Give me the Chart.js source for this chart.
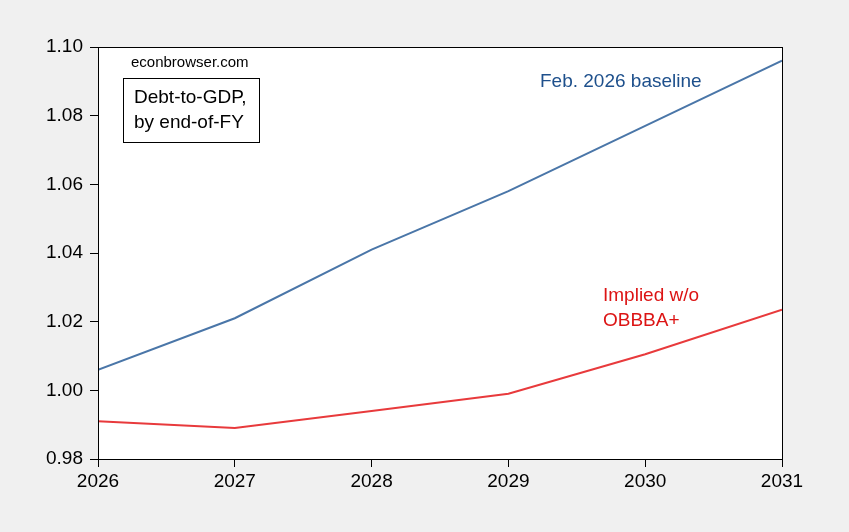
<!DOCTYPE html>
<html>
<head>
<meta charset="utf-8">
<script src="https://cdn.jsdelivr.net/npm/chart.js@4"></script>
<style>
  html, body { margin: 0; padding: 0; background: #f0f0f0; }
  #wrap { width: 849px; height: 532px; position: relative; }
</style>
</head>
<body>
<div id="wrap"><canvas id="c"></canvas></div>
<script>
const years = [2026, 2027, 2028, 2029, 2030, 2031];
const baseline = [1.006, 1.021, 1.041, 1.058, 1.077, 1.096];
const impliedWoOBBBA = [0.991, 0.989, 0.994, 0.999, 1.0105, 1.0235];
const yTicks = [0.98, 1.00, 1.02, 1.04, 1.06, 1.08, 1.10];
const labelBaseline = "Feb. 2026 baseline";
const labelImplied = ["Implied w/o", "OBBBA+"];
const boxLines = ["Debt-to-GDP,", "by end-of-FY"];
const sourceText = "econbrowser.com";

const FONT = "Arial, 'Liberation Sans', sans-serif";
const BLUE = "rgb(74,118,168)";
const RED = "rgb(232,58,60)";

const frame = {
  id: "frame",
  beforeDraw(chart) {
    const ctx = chart.ctx, a = chart.chartArea;
    ctx.save();
    ctx.fillStyle = "#fff";
    ctx.fillRect(a.left, a.top, a.right - a.left, a.bottom - a.top);
    ctx.restore();
  },
  afterDraw(chart) {
    const ctx = chart.ctx, a = chart.chartArea;
    ctx.save();
    ctx.strokeStyle = "#000";
    ctx.lineWidth = 1;
    ctx.strokeRect(Math.round(a.left) + 0.5, Math.round(a.top) + 0.5,
                   Math.round(a.right - a.left), Math.round(a.bottom - a.top));
    ctx.textBaseline = "middle";
    ctx.textAlign = "left";
    ctx.fillStyle = "#000";
    ctx.font = "15px " + FONT;
    ctx.fillText(sourceText, 131, 63);
    ctx.fillStyle = "#fff";
    ctx.fillRect(123.5, 78.5, 136, 64);
    ctx.strokeRect(123.5, 78.5, 136, 64);
    ctx.fillStyle = "#000";
    ctx.font = "19px " + FONT;
    ctx.fillText(boxLines[0], 134, 98);
    ctx.fillText(boxLines[1], 134, 123);
    ctx.fillStyle = "rgb(30,80,140)";
    ctx.fillText(labelBaseline, 540, 82);
    ctx.fillStyle = "rgb(220,20,20)";
    ctx.fillText(labelImplied[0], 603, 296);
    ctx.fillText(labelImplied[1], 603, 321);
    ctx.restore();
  }
};

new Chart(document.getElementById("c"), {
  type: "line",
  data: {
    datasets: [
      { label: labelBaseline, data: years.map((y, i) => ({ x: y, y: baseline[i] })),
        borderColor: BLUE, borderWidth: 2, pointRadius: 0, tension: 0 },
      { label: labelImplied.join(" "), data: years.map((y, i) => ({ x: y, y: impliedWoOBBBA[i] })),
        borderColor: RED, borderWidth: 2, pointRadius: 0, tension: 0 }
    ]
  },
  options: {
    responsive: true,
    maintainAspectRatio: false,
    animation: false,
    devicePixelRatio: 1,
    layout: { padding: { top: 47, right: 67, left: 0, bottom: 0 } },
    plugins: { legend: { display: false }, tooltip: { enabled: false } },
    scales: {
      x: {
        type: "linear", min: years[0], max: years[years.length - 1],
        afterBuildTicks(s) { s.ticks = years.map(v => ({ value: v })); },
        afterFit(s) { s.height = 73; },
        grid: { drawOnChartArea: false, drawTicks: true, tickLength: 8, tickColor: "#000", color: "#000" },
        border: { color: "#000", width: 1 },
        ticks: { color: "#000", font: { size: 19, family: FONT }, padding: 3,
                 maxRotation: 0, callback: v => String(v) }
      },
      y: {
        min: yTicks[0], max: yTicks[yTicks.length - 1],
        afterBuildTicks(s) { s.ticks = yTicks.map(v => ({ value: v })); },
        afterFit(s) { s.width = 98; },
        grid: { drawOnChartArea: false, drawTicks: true, tickLength: 8, tickColor: "#000", color: "#000" },
        border: { color: "#000", width: 1 },
        ticks: { color: "#000", font: { size: 19, family: FONT }, padding: 7,
                 callback: v => Number(v).toFixed(2) }
      }
    }
  },
  plugins: [frame]
});
</script>
</body>
</html>
